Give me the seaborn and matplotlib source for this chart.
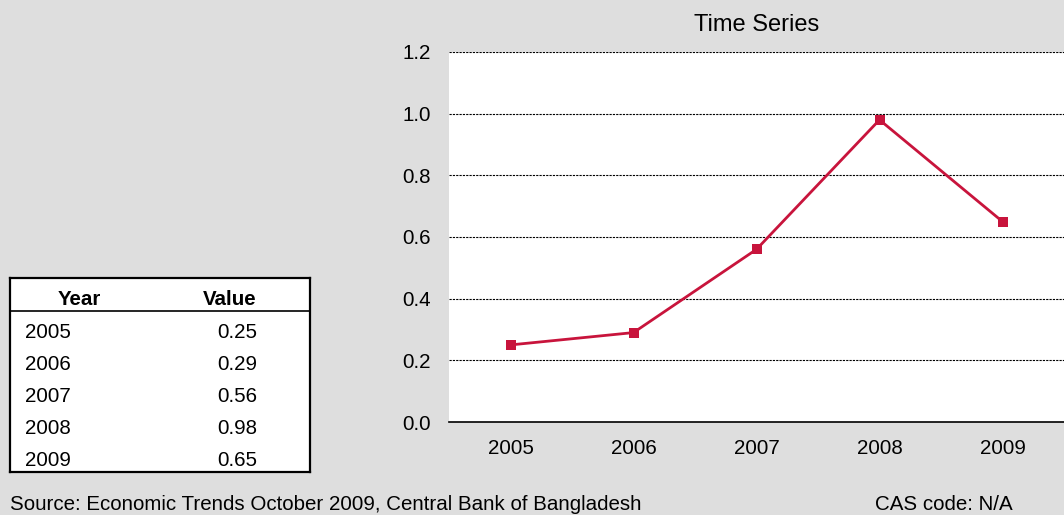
import numpy as np
import pandas as pd
import matplotlib.pyplot as plt
import seaborn as sns
from matplotlib.ticker import FixedLocator

#--------------------------------------------------------
years=['2005', '2006', '2007', '2008', '2009']
values=[0.25, 0.29, 0.56, 0.98, 0.65]
yticks=[0.0, 0.2, 0.4, 0.6, 0.8, 1.0, 1.2]
title='Time Series'
source='Source: Economic Trends October 2009, Central Bank of Bangladesh'
cas='CAS code: N/A'

bg='#dedede'
red='#c8143c'
W, H=1064, 515
fs=14.8

#--------------------------------------------------------
sns.set_style('white')
plt.rcParams['font.family']=['Liberation Sans', 'DejaVu Sans']
plt.rcParams['font.size']=fs
plt.rcParams['text.color']='black'
plt.rcParams['xtick.color']='black'
plt.rcParams['ytick.color']='black'

df=pd.DataFrame({'year': years, 'value': values})

fig=plt.figure(figsize=(W/100, H/100), dpi=100, facecolor=bg)

#chart axes (pixel box 449..1064 x 52..422)
ax=fig.add_axes([449/W, 1-422/H, (1064-449)/W, (422-52)/H])
ax.set_facecolor('white')
sns.lineplot(data=df, x='year', y='value', ax=ax, color=red, lw=2,
	marker='s', markersize=7, markeredgewidth=0, sort=False)
ax.set_xlim(-0.5, len(years)-0.5)
ax.set_ylim(0, 1.2)
ax.set_yticks(yticks)
ax.set_yticklabels([f'{v:.1f}' for v in yticks])
ax.set_xlabel('')
ax.set_ylabel('')
for v in yticks[1:]:
	ax.axhline(v, color='black', lw=0.8, ls=(0, (2, 1)), zorder=0)
for s in ['left', 'right', 'top']:
	ax.spines[s].set_visible(False)
ax.spines['bottom'].set_color('black')
ax.spines['bottom'].set_linewidth(1.2)
ax.tick_params(axis='y', length=0, pad=13, labelsize=fs)
ax.tick_params(axis='x', which='major', length=0, pad=12, labelsize=fs)
ax.xaxis.set_minor_locator(FixedLocator(np.arange(-0.5, len(years), 1.0)))
ax.tick_params(axis='x', which='minor', length=5, width=1, color='#555555', direction='out')
ax.set_title(title, fontsize=17, pad=15)

#data table (pixel box 10..310 x 278..472)
tx0, tx1, ty0, ty1=10, 310, 278, 472
tax=fig.add_axes([tx0/W, 1-ty1/H, (tx1-tx0)/W, (ty1-ty0)/H])
tax.set_xlim(tx0, tx1)
tax.set_ylim(ty1, ty0)
tax.set_facecolor('white')
tax.set_xticks([])
tax.set_yticks([])
for s in tax.spines.values():
	s.set_linewidth(1.6)
	s.set_color('black')
tax.axhline(311.5, color='black', lw=1.2)
tax.text(79.5, 305, 'Year', ha='center', va='baseline', fontweight='bold', fontsize=fs)
tax.text(230, 305, 'Value', ha='center', va='baseline', fontweight='bold', fontsize=fs)
row_y=np.linspace(338, 466.5, len(years))
for yy, yr, v in zip(row_y, years, values):
	tax.text(25, yy, yr, ha='left', va='baseline', fontsize=fs)
	tax.text(257, yy, f'{v:.2f}', ha='right', va='baseline', fontsize=fs)

#footer
fig.text(10/W, 1-510.5/H, source, ha='left', va='baseline', fontsize=fs)
fig.text(875/W, 1-510.5/H, cas, ha='left', va='baseline', fontsize=fs)

plt.savefig('out.png', dpi=100, facecolor=bg)
plt.close()
